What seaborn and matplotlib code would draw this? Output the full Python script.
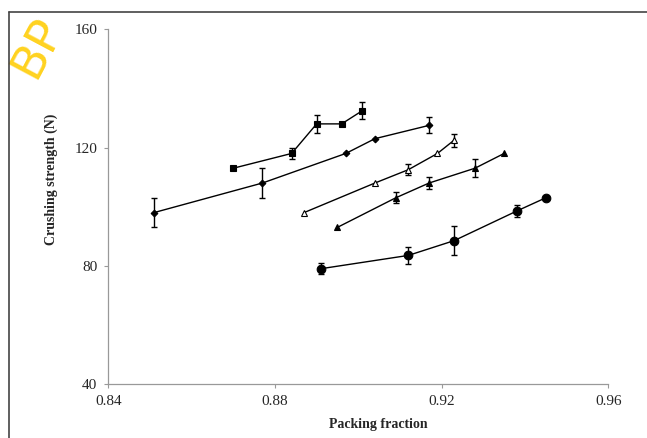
import seaborn as sns
import matplotlib.pyplot as plt
from matplotlib.lines import Line2D

# packing fraction / crushing strength (N) / error, one set per series
sq_x = [0.870, 0.884, 0.890, 0.896, 0.901]
sq_y = [113, 118, 128, 128, 132.5]
sq_err = [0, 2, 3, 0, 3]

dia_x = [0.851, 0.877, 0.897, 0.904, 0.917]
dia_y = [98, 108, 118, 123, 127.5]
dia_err = [5, 5, 0, 0, 2.7]

otri_x = [0.887, 0.904, 0.912, 0.919, 0.923]
otri_y = [98, 108, 112.5, 118, 122.5]
otri_err = [0, 0, 1.8, 0, 2.2]

ftri_x = [0.895, 0.909, 0.917, 0.928, 0.935]
ftri_y = [93, 103, 108, 113, 118]
ftri_err = [0, 1.8, 1.9, 3, 0]

circ_x = [0.891, 0.912, 0.923, 0.938, 0.945]
circ_y = [79, 83.5, 88.5, 98.5, 103]
circ_err = [1.9, 3, 4.8, 2.1, 0]

xticks = [0.84, 0.88, 0.92, 0.96]
yticks = [40, 80, 120, 160]

sns.set_style("ticks")
plt.rcParams['font.family'] = ['Liberation Serif', 'DejaVu Serif']

fig = plt.figure(figsize=(6.47, 4.38), dpi=100)
ax = fig.add_axes([0.1674, 0.1233, 0.7728, 0.8098])

series = [
    (sq_x, sq_y, sq_err, dict(marker='s', markersize=4.6, markerfacecolor='black')),
    (dia_x, dia_y, dia_err, dict(marker='D', markersize=3.4, markerfacecolor='black')),
    (otri_x, otri_y, otri_err, dict(marker='^', markersize=5, markerfacecolor='white')),
    (ftri_x, ftri_y, ftri_err, dict(marker='^', markersize=5, markerfacecolor='black')),
    (circ_x, circ_y, circ_err, dict(marker='o', markersize=6.2, markerfacecolor='black')),
]

for xs, ys, errs, style in series:
    ex = [x for x, e in zip(xs, errs) if e > 0]
    ey = [y for y, e in zip(ys, errs) if e > 0]
    ee = [e for e in errs if e > 0]
    ax.errorbar(ex, ey, yerr=ee, fmt='none', ecolor='black', elinewidth=1, capsize=2.5, capthick=1, zorder=2)
    sns.lineplot(x=xs, y=ys, color='black', linewidth=1, markeredgecolor='black',
                 markeredgewidth=0.8, ax=ax, zorder=3, **style)

ax.set_xlim(0.84, 0.96)
ax.set_ylim(40, 160)
ax.set_xticks(xticks)
ax.set_yticks(yticks)
ax.set_xticklabels([f'{t:.2f}' for t in xticks])
ax.tick_params(labelsize=11, length=3, width=0.8, color='#999999', pad=5)

for side in ['top', 'right']:
    ax.spines[side].set_visible(False)
for side in ['left', 'bottom']:
    ax.spines[side].set_color('#999999')
    ax.spines[side].set_linewidth(0.9)

ax.set_xlabel('Packing fraction', fontsize=10, fontweight='bold', va='center')
ax.set_ylabel('Crushing strength (N)', fontsize=10, fontweight='bold', va='center')
ax.xaxis.set_label_coords(0.541, -0.1156)
ax.yaxis.set_label_coords(-0.1146, 0.578)

# page frame and watermark from the source document
fig.add_artist(Line2D([9 / 647, 1], [1 - 12 / 438] * 2, transform=fig.transFigure, color='#444444', linewidth=1.2))
fig.add_artist(Line2D([9 / 647] * 2, [0, 1 - 12 / 438], transform=fig.transFigure, color='#444444', linewidth=1.2))
fig.text(0.005, 0.83, 'BP', rotation=62, color='#FFD21F', fontsize=34, fontfamily='DejaVu Sans', zorder=0)

plt.savefig('out.png', dpi=100)
